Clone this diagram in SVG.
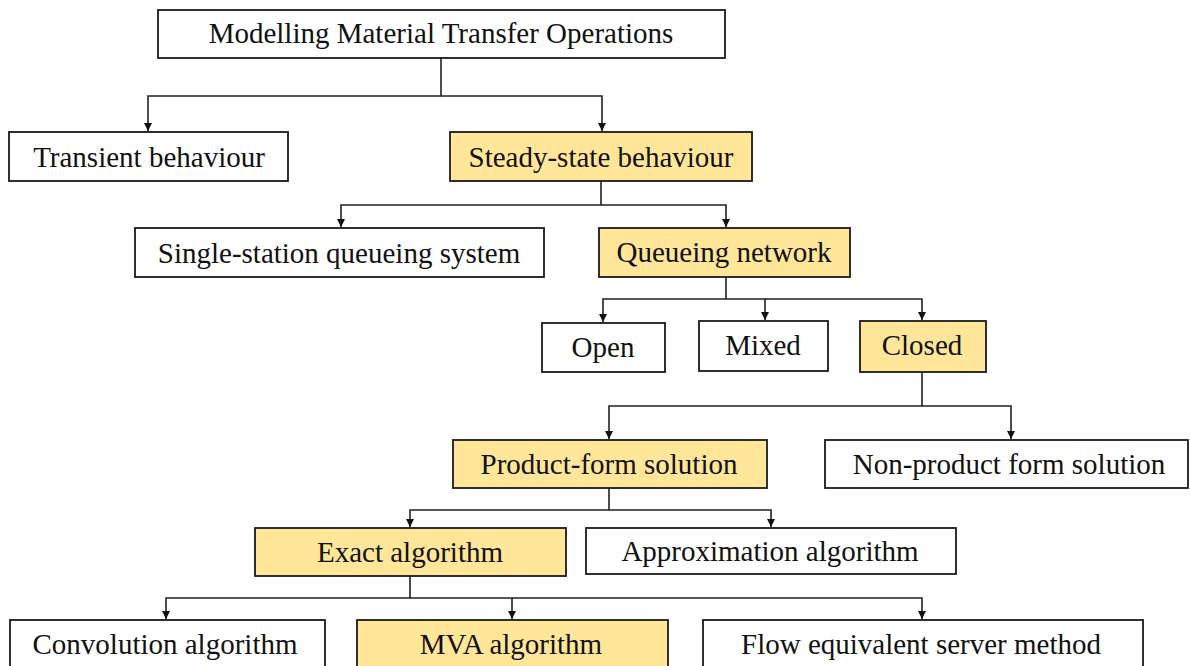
<svg xmlns="http://www.w3.org/2000/svg" width="1190" height="666" viewBox="0 0 1190 666">
<style>
.b{fill:#fff;stroke:#1a1a1a;stroke-width:1.8}
.y{fill:#ffe699;stroke:#1a1a1a;stroke-width:1.8}
.t{font-family:"Liberation Serif","Times New Roman",serif;font-size:29px;fill:#111;text-anchor:middle}
.c{fill:none;stroke:#222;stroke-width:1.6}
</style>
<defs>
<marker id="ah" viewBox="0 0 10 10" refX="10" refY="5" markerWidth="8" markerHeight="11" markerUnits="userSpaceOnUse" orient="auto">
<path d="M0,0 L10,5 L0,10 z" fill="#111"/>
</marker>
</defs>
<rect width="1190" height="666" fill="#fff"/>
<g id="connectors">
<path class="c" d="M441,58 V96 H148 V131" marker-end="url(#ah)"/>
<path class="c" d="M441,96 H602 V131" marker-end="url(#ah)"/>
<path class="c" d="M601,181 V205 H341 V227" marker-end="url(#ah)"/>
<path class="c" d="M601,205 H726 V227" marker-end="url(#ah)"/>
<path class="c" d="M726,277 V299 H603 V322" marker-end="url(#ah)"/>
<path class="c" d="M726,299 H765 V320" marker-end="url(#ah)"/>
<path class="c" d="M765,299 H922 V320" marker-end="url(#ah)"/>
<path class="c" d="M922,372 V406 H609 V439" marker-end="url(#ah)"/>
<path class="c" d="M922,406 H1011 V439" marker-end="url(#ah)"/>
<path class="c" d="M609,488 V510 H410 V527" marker-end="url(#ah)"/>
<path class="c" d="M609,510 H771 V527" marker-end="url(#ah)"/>
<path class="c" d="M410,576 V598 H166 V619" marker-end="url(#ah)"/>
<path class="c" d="M410,598 H512 V619" marker-end="url(#ah)"/>
<path class="c" d="M512,598 H922 V619" marker-end="url(#ah)"/>
</g>
<g id="n-root"><rect class="b" x="158" y="10" width="567" height="48"/><text class="t" x="441" y="43">Modelling Material Transfer Operations</text></g>
<g id="n-transient"><rect class="b" x="9" y="132" width="279" height="49"/><text class="t" x="149" y="167">Transient behaviour</text></g>
<g id="n-steady"><rect class="y" x="450" y="132" width="302" height="49"/><text class="t" x="601" y="167">Steady-state behaviour</text></g>
<g id="n-single"><rect class="b" x="135" y="228" width="409" height="49"/><text class="t" x="339" y="263">Single-station queueing system</text></g>
<g id="n-qn"><rect class="y" x="599" y="228" width="251" height="49"/><text class="t" x="724" y="262">Queueing network</text></g>
<g id="n-open"><rect class="b" x="542" y="323" width="123" height="49"/><text class="t" x="603" y="357">Open</text></g>
<g id="n-mixed"><rect class="b" x="699" y="321" width="129" height="50"/><text class="t" x="763" y="355">Mixed</text></g>
<g id="n-closed"><rect class="y" x="860" y="321" width="126" height="51"/><text class="t" x="922" y="355">Closed</text></g>
<g id="n-pf"><rect class="y" x="453" y="440" width="314" height="48"/><text class="t" x="609" y="474">Product-form solution</text></g>
<g id="n-npf"><rect class="b" x="825" y="440" width="363" height="48"/><text class="t" x="1009" y="474">Non-product form solution</text></g>
<g id="n-exact"><rect class="y" x="255" y="528" width="311" height="48"/><text class="t" x="410" y="562">Exact algorithm</text></g>
<g id="n-approx"><rect class="b" x="586" y="528" width="370" height="46"/><text class="t" x="770" y="561">Approximation algorithm</text></g>
<g id="n-conv"><rect class="b" x="10" y="620" width="315" height="52"/><text class="t" x="165" y="654">Convolution algorithm</text></g>
<g id="n-mva"><rect class="y" x="357" y="620" width="311" height="52"/><text class="t" x="511" y="654">MVA algorithm</text></g>
<g id="n-flow"><rect class="b" x="703" y="620" width="440" height="52"/><text class="t" x="921" y="654">Flow equivalent server method</text></g>
</svg>
